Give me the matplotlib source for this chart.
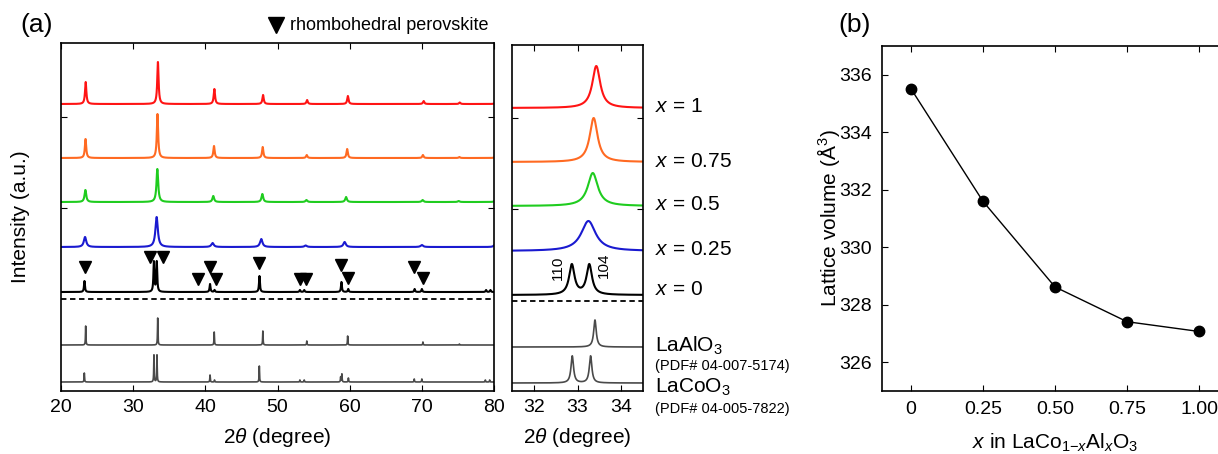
import numpy as np
import matplotlib
matplotlib.use('Agg')
import matplotlib.pyplot as plt
from matplotlib.lines import Line2D

plt.rcParams['font.family'] = ['Liberation Sans', 'DejaVu Sans']
plt.rcParams['mathtext.fontset'] = 'custom'
plt.rcParams['mathtext.rm'] = 'Liberation Sans'
plt.rcParams['mathtext.it'] = 'Liberation Sans:italic'
plt.rcParams['axes.linewidth'] = 1.2

# --- XRD peak lists (position in 2theta, height in a.u.) ---
pos_x100 = [23.42, 33.43, 41.25, 48.0, 54.1, 59.75, 70.25, 75.25, 80.3]
h_x100 = [22, 42, 15, 9, 4, 8, 3, 1.5, 3]
pos_x075 = [23.40, 33.37, 41.2, 47.95, 54.05, 59.65, 70.15, 75.2, 80.25]
h_x075 = [19, 44, 12, 11, 3, 9, 3, 1, 3]
pos_x050 = [23.38, 33.35, 41.1, 47.9, 54.0, 59.5, 70.1, 75.1, 80.2]
h_x050 = [12, 33, 6, 8, 2, 5, 2, 1, 2]
pos_x025 = [23.33, 33.25, 41.0, 47.75, 53.9, 59.3, 70.0, 80.1]
h_x025 = [10, 30, 4, 8, 1.5, 5, 2, 2]
pos_x000 = [23.25, 32.87, 33.27, 40.65, 41.27, 47.5, 53.1, 53.7, 58.86, 59.8, 69.0, 70.0, 78.9, 79.5]
h_x000 = [11, 30, 30, 8, 2, 16, 2, 2, 10, 3, 3, 3, 2, 2]
pos_laalo3 = [23.42, 33.4, 41.23, 47.97, 54.06, 59.72, 70.15, 75.2]
h_laalo3 = [19, 27, 13, 14, 4, 9, 3, 1]
pos_lacoo3 = [23.23, 32.88, 33.3, 40.65, 41.27, 47.48, 53.1, 53.7, 58.75, 58.92, 59.82, 68.95, 70.0, 78.8, 79.4]
h_lacoo3 = [9, 27, 27, 7, 2, 16, 2, 2, 5, 8, 4, 3, 3, 2, 2]

sample_labels = [r'$x$ = 1', r'$x$ = 0.75', r'$x$ = 0.5', r'$x$ = 0.25', r'$x$ = 0']
sample_colors = ['#ff1414', '#ff6a22', '#1fcc1f', '#1a1ad0', 'black']

# rhombohedral markers above x = 0 pattern
tri_x = [23.3, 32.3, 34.1, 39.0, 40.6, 41.5, 47.5, 53.1, 53.9, 58.8, 59.7, 68.9, 70.1]
tri_y = [124, 134, 134, 112, 124, 112, 128, 112, 112, 126, 113, 124, 113]

# --- lattice volume (panel b) ---
x_comp = [0, 0.25, 0.5, 0.75, 1.0]
volume = [335.52, 331.6, 328.62, 327.41, 327.07]


def pattern(tt, pos, hts, hw):
    y = np.zeros_like(tt)
    for p, h in zip(pos, hts):
        y += h / (1 + ((tt - p) / hw) ** 2)
    return y


tt = np.linspace(20, 80.5, 24201)
curves = [pattern(tt, pos_x100, h_x100, 0.11),
          pattern(tt, pos_x075, h_x075, 0.11),
          pattern(tt, pos_x050, h_x050, 0.14),
          pattern(tt, pos_x025, h_x025, 0.2),
          pattern(tt, pos_x000, h_x000, 0.075)]
ref_curves = [pattern(tt, pos_laalo3, h_laalo3, 0.035),
              pattern(tt, pos_lacoo3, h_lacoo3, 0.035)]

off_main = [287, 233, 189, 144, 99]
ref_off_main = [46, 9]
off_ins = [283, 229, 185, 140, 96]
ref_off_ins = [44, 8]

W, H = 1218, 454
fig = plt.figure(figsize=(W / 100, H / 100), dpi=100)
ax = fig.add_axes([61 / W, 1 - 391 / H, 433 / W, 348 / H])
axi = fig.add_axes([512 / W, 1 - 391 / H, 131 / W, 346 / H])
axb = fig.add_axes([882 / W, 1 - 391 / H, 346 / W, 345 / H])

for a, offs, roffs, dash in [(ax, off_main, ref_off_main, 92), (axi, off_ins, ref_off_ins, 90)]:
    for c, col, o in zip(curves, sample_colors, offs):
        a.plot(tt, c + o, color=col, lw=1.5)
    for c, o in zip(ref_curves, roffs):
        a.plot(tt, c + o, color='#4a4a4a', lw=1.2)
    a.axhline(dash, color='black', lw=1.3, ls=(0, (3, 2)))
    a.tick_params(direction='in', top=True, right=True, labelsize=14, length=4, pad=6)
    a.set_xlabel(r'2$\theta$ (degree)', fontsize=15, labelpad=7)

ax.set_xlim(20, 80)
ax.set_ylim(0, 348)
ax.set_xticks(range(20, 81, 10))
ax.set_yticks([183, 274])
ax.set_yticklabels([])
ax.set_ylabel('Intensity (a.u.)', fontsize=15, labelpad=16)
ax.plot(tri_x, tri_y, 'v', color='black', ms=9, ls='none')

axi.set_xlim(31.5, 34.5)
axi.set_ylim(0, 346)
axi.set_xticks([32, 33, 34])
axi.set_yticks([182, 273])
axi.set_yticklabels([])
axi.text(32.55, 123, '110', rotation=90, ha='center', va='center', fontsize=11)
axi.text(33.6, 126, '104', rotation=90, ha='center', va='center', fontsize=11)

# labels right of the inset
lab_y = [112, 167, 210, 255, 295]
for s, yy in zip(sample_labels, lab_y):
    fig.text(655 / W, 1 - yy / H, s, fontsize=15, va='baseline')
fig.text(655 / W, 1 - 352 / H, r'LaAlO$_3$', fontsize=15, va='baseline')
fig.text(655 / W, 1 - 370 / H, '(PDF# 04-007-5174)', fontsize=10.5, va='baseline')
fig.text(655 / W, 1 - 393 / H, r'LaCoO$_3$', fontsize=15, va='baseline')
fig.text(655 / W, 1 - 413 / H, '(PDF# 04-005-7822)', fontsize=10.5, va='baseline')

fig.add_artist(Line2D([276 / W], [1 - 25 / H], marker='v', ms=11, color='black',
                      transform=fig.transFigure))
fig.text(290 / W, 1 - 25 / H, 'rhombohedral perovskite', fontsize=13, va='center')
fig.text(20 / W, 1 - 25 / H, '(a)', fontsize=19, va='center')
fig.text(838 / W, 1 - 25 / H, '(b)', fontsize=19, va='center')

# panel (b)
axb.plot(x_comp, volume, '-o', color='black', lw=1, ms=7.5)
axb.set_xlim(-0.1, 1.1)
axb.set_ylim(325, 337)
axb.set_xticks(x_comp)
axb.set_xticklabels(['0', '0.25', '0.50', '0.75', '1.00'])
axb.set_yticks(range(326, 337, 2))
axb.tick_params(direction='in', top=True, right=True, labelsize=14, length=4, pad=7)
axb.set_xlabel(r'$x$ in LaCo$_{1\mathrm{-}x}$Al$_x$O$_3$', fontsize=15, labelpad=10)
axb.set_ylabel(r'Lattice volume ($\mathrm{\AA}^3$)', fontsize=15, labelpad=-2)

fig.savefig('out.png', dpi=100, facecolor='white')
